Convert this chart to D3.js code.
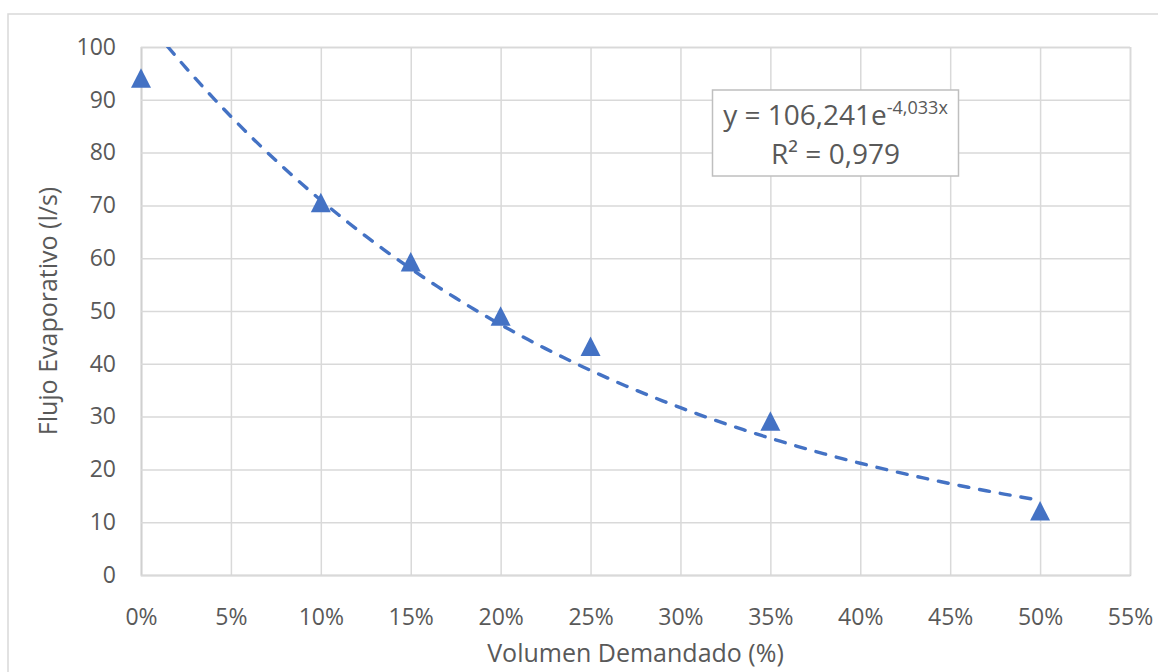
<!DOCTYPE html>
<html>
<head>
<meta charset="utf-8">
<script src="https://cdn.jsdelivr.net/npm/d3@7"></script>
<style>
  body { margin: 0; background: #fff; }
  text { font-family: "Open Sans", "Noto Sans", sans-serif; fill: #595959; }
</style>
</head>
<body>
<div id="chart"></div>
<script>
// measured values (volume demanded as fraction, flow in l/s)
const volumen = [0, 0.10, 0.15, 0.20, 0.25, 0.35, 0.50]
const flujo = [94.1, 70.5, 59.3, 49.0, 43.3, 29.1, 12.1]

const xTicks = [0, 0.05, 0.10, 0.15, 0.20, 0.25, 0.30, 0.35, 0.40, 0.45, 0.50, 0.55]
const yTicks = [0, 10, 20, 30, 40, 50, 60, 70, 80, 90, 100]

// trendline shown on the chart: y = a * e^(b x)
const trendA = 106.241
const trendB = -4.033
const trendLabel = ["y = 106,241e", "-4,033x"]
const r2Label = "R² = 0,979"

const width = 1158, height = 672
const margin = { top: 47, right: 28, bottom: 97, left: 141 }
const blue = "#4472C4"

let svg = d3.select("#chart").append("svg")
  .attr("width", width)
  .attr("height", height)

// outer chart border
svg.append("rect")
  .attr("x", 8).attr("y", 14)
  .attr("width", width + 10).attr("height", height)
  .attr("fill", "none")
  .attr("stroke", "#d9d9d9")
  .attr("stroke-width", 1.5)

let x = d3.scaleLinear()
  .domain([0, 0.55])
  .range([margin.left, width - margin.right])

let y = d3.scaleLinear()
  .domain([0, 100])
  .range([height - margin.bottom, margin.top])

svg.append("clipPath")
  .attr("id", "plot-area")
  .append("rect")
  .attr("x", margin.left).attr("y", margin.top)
  .attr("width", x(0.55) - x(0)).attr("height", y(0) - y(100))

// grid + axes
svg.append("g")
  .attr("transform", `translate(0, ${y(0)})`)
  .call(d3.axisBottom(x).tickValues(xTicks).tickSize(-(y(0) - y(100))).tickFormat(d3.format(".0%")))
  .call(g => g.select(".domain").attr("stroke", "#d0d0d0").attr("stroke-width", 1.5))
  .call(g => g.selectAll(".tick line").attr("stroke", "#d9d9d9").attr("stroke-width", 1.5))
  .call(g => g.selectAll(".tick text")
    .attr("y", 34)
    .attr("font-size", "23px"))

svg.append("g")
  .attr("transform", `translate(${x(0)}, 0)`)
  .call(d3.axisLeft(y).tickValues(yTicks).tickSize(-(x(0.55) - x(0))))
  .call(g => g.select(".domain").attr("stroke", "#d0d0d0").attr("stroke-width", 1.5))
  .call(g => g.selectAll(".tick line").attr("stroke", "#d9d9d9").attr("stroke-width", 1.5))
  .call(g => g.selectAll(".tick text")
    .attr("x", -25)
    .attr("font-size", "23px"))

svg.selectAll("g").attr("font-family", null)
svg.selectAll(".tick text").attr("fill", null)

// trendline, clipped to plot area
let trendXs = d3.range(0, 0.5001, 0.005)
let trend = d3.line()
  .x(d => x(d))
  .y(d => y(trendA * Math.exp(trendB * d)))
  .curve(d3.curveMonotoneX)

svg.append("path")
  .datum(trendXs)
  .attr("clip-path", "url(#plot-area)")
  .attr("d", trend)
  .attr("fill", "none")
  .attr("stroke", blue)
  .attr("stroke-width", 3.4)
  .attr("stroke-linecap", "round")
  .attr("stroke-dasharray", "10,11")

// markers
svg.append("g")
  .selectAll("path")
  .data(volumen)
  .join("path")
  .attr("transform", (d, i) => `translate(${x(d)}, ${y(flujo[i])})`)
  .attr("d", "M0,-10 L10,9.5 L-10,9.5 Z")
  .attr("fill", blue)

// equation label
let box = svg.append("g")
box.append("rect")
  .attr("x", 712.5).attr("y", 90)
  .attr("width", 246).attr("height", 86)
  .attr("fill", "#fff")
  .attr("stroke", "#bfbfbf")
  .attr("stroke-width", 1.5)

let eq = box.append("text")
  .attr("x", 835.5).attr("y", 125)
  .attr("text-anchor", "middle")
  .attr("font-size", "28px")
eq.append("tspan").text(trendLabel[0])
eq.append("tspan").text(trendLabel[1])
  .attr("font-size", "18px")
  .attr("dy", -11)

box.append("text")
  .attr("x", 835.5).attr("y", 164)
  .attr("text-anchor", "middle")
  .attr("font-size", "28px")
  .text(r2Label)

// axis titles
svg.append("text")
  .attr("transform", `translate(57, ${(y(0) + y(100)) / 2}) rotate(-90)`)
  .attr("text-anchor", "middle")
  .attr("font-size", "25px")
  .text("Flujo Evaporativo (l/s)")

svg.append("text")
  .attr("x", (x(0) + x(0.55)) / 2)
  .attr("y", 662)
  .attr("text-anchor", "middle")
  .attr("font-size", "25px")
  .text("Volumen Demandado (%)")
</script>
</body>
</html>
